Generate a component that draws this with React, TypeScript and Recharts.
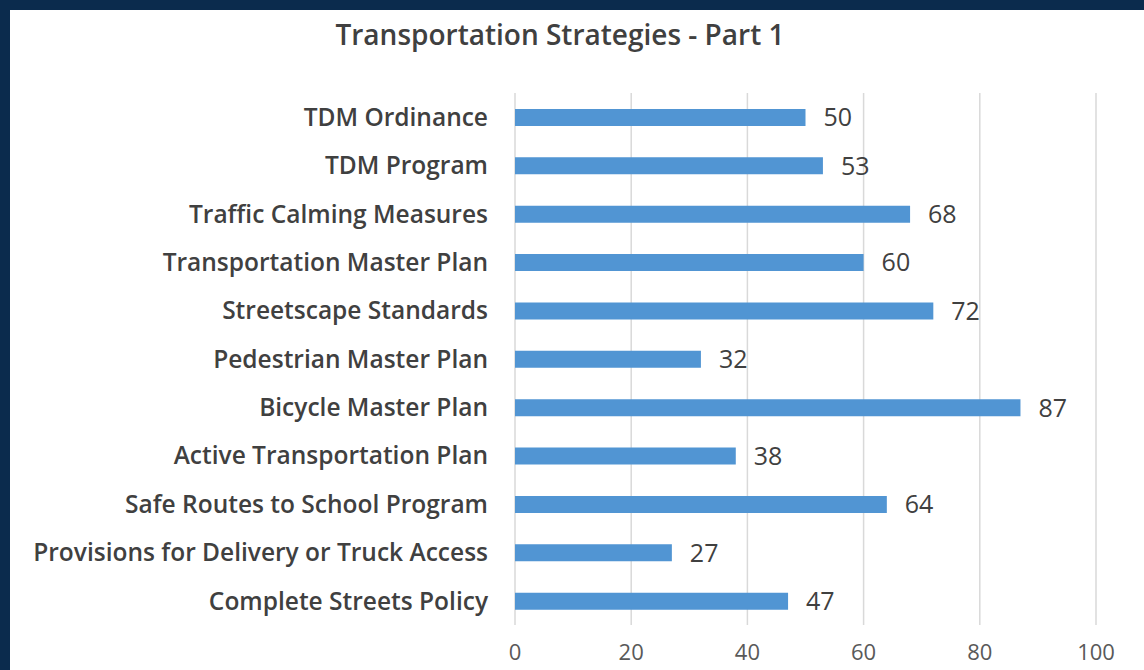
import { Bar, BarChart, CartesianGrid, LabelList, XAxis, YAxis } from "recharts"

const strategies = [
  "TDM Ordinance",
  "TDM Program",
  "Traffic Calming Measures",
  "Transportation Master Plan",
  "Streetscape Standards",
  "Pedestrian Master Plan",
  "Bicycle Master Plan",
  "Active Transportation Plan",
  "Safe Routes to School Program",
  "Provisions for Delivery or Truck Access",
  "Complete Streets Policy",
]
const counts = [50, 53, 68, 60, 72, 32, 87, 38, 64, 27, 47]
const xTicks = [0, 20, 40, 60, 80, 100]

const data = strategies.map((name, i) => ({ name, value: counts[i] }))

const FONT = "'Open Sans', sans-serif"

export default function App() {
  return (
    <div
      style={{
        position: "absolute",
        left: 0,
        top: 0,
        width: 1144,
        height: 670,
        background: "#0b2b4d",
        overflow: "hidden",
      }}
    >
      <div
        style={{
          position: "absolute",
          left: 10,
          top: 10,
          width: 1134,
          height: 660,
          background: "#ffffff",
          fontFamily: FONT,
        }}
      >
        <div
          style={{
            position: "absolute",
            top: 5,
            left: 0,
            width: 1100,
            textAlign: "center",
            fontSize: 28,
            fontWeight: 600,
            color: "#404040",
            lineHeight: "38px",
          }}
        >
          Transportation Strategies - Part 1
        </div>
        <BarChart
          width={1134}
          height={660}
          data={data}
          layout="vertical"
          margin={{ top: 83, right: 48, left: 0, bottom: 5 }}
        >
          <CartesianGrid horizontal={false} stroke="#d9d9d9" strokeWidth={1.5} />
          <XAxis
            type="number"
            domain={[0, 100]}
            ticks={xTicks}
            axisLine={false}
            tickLine={false}
            tickSize={0}
            tickMargin={19}
            height={40}
            tick={{ fill: "#595959", fontSize: 22, fontFamily: FONT }}
          />
          <YAxis
            type="category"
            dataKey="name"
            width={505}
            axisLine={false}
            tickLine={false}
            tickSize={0}
            tickMargin={27}
            interval={0}
            tick={{ fill: "#404040", fontSize: 24.5, fontWeight: 600, fontFamily: FONT }}
          />
          <Bar dataKey="value" fill="#5195d3" barSize={17} isAnimationActive={false}>
            <LabelList
              dataKey="value"
              position="right"
              offset={18}
              fill="#404040"
              fontSize={25}
              fontFamily={FONT}
            />
          </Bar>
        </BarChart>
      </div>
    </div>
  )
}
